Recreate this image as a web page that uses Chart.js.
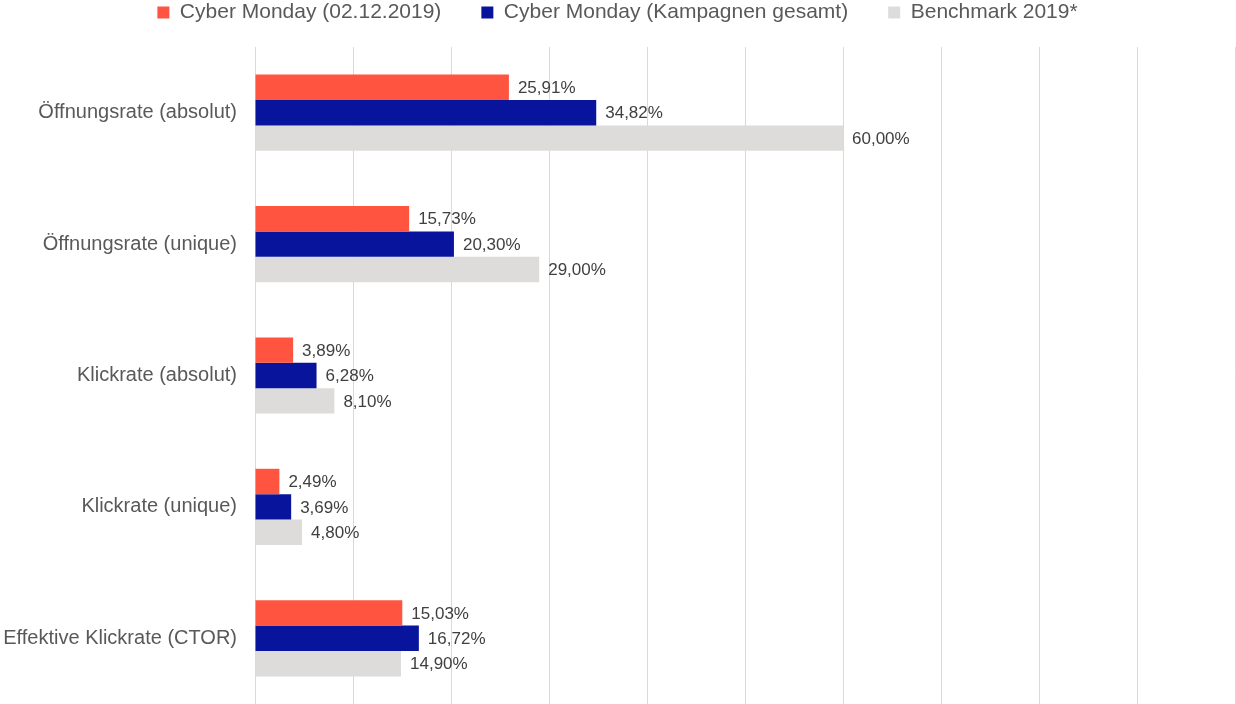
<!DOCTYPE html>
<html>
<head>
<meta charset="utf-8">
<script src="https://cdn.jsdelivr.net/npm/chart.js@4"></script>
<style>
  html, body { margin: 0; padding: 0; background: #fff; }
  #wrap { width: 1236px; height: 704px; }
</style>
</head>
<body>
<div id="wrap"><canvas id="chart"></canvas></div>
<script>
const categories = ['Öffnungsrate (absolut)', 'Öffnungsrate (unique)', 'Klickrate (absolut)', 'Klickrate (unique)', 'Effektive Klickrate (CTOR)'];
const seriesNames = ['Cyber Monday (02.12.2019)', 'Cyber Monday (Kampagnen gesamt)', 'Benchmark 2019*'];
const cyberMonday = [25.91, 15.73, 3.89, 2.49, 15.03];
const kampagnenGesamt = [34.82, 20.30, 6.28, 3.69, 16.72];
const benchmark = [60.00, 29.00, 8.10, 4.80, 14.90];
const colors = ['#ff5540', '#07149b', '#dddcdb'];

const fontFamily = '"Liberation Sans", Arial, sans-serif';

// Prozentwerte rechts neben den Balken
const valueLabels = {
    id: 'valueLabels',
    afterDatasetsDraw(chart) {
        const ctx = chart.ctx;
        ctx.save();
        ctx.font = '17px ' + fontFamily;
        ctx.fillStyle = '#404040';
        ctx.textAlign = 'left';
        ctx.textBaseline = 'middle';
        chart.data.datasets.forEach((ds, i) => {
            chart.getDatasetMeta(i).data.forEach((bar, j) => {
                const txt = ds.data[j].toFixed(2).replace('.', ',') + '%';
                ctx.fillText(txt, bar.x + 9, bar.y + 1);
            });
        });
        ctx.restore();
    }
};

// Legende: feste Höhe, damit der Plotbereich bei y=47 beginnt
const legendHeight = {
    id: 'legendHeight',
    beforeInit(chart) {
        const fit = chart.legend.fit;
        chart.legend.fit = function() {
            fit.call(this);
            this.height = 85;
        };
    }
};

new Chart(document.getElementById('chart'), {
    type: 'bar',
    data: {
        labels: categories,
        datasets: [
            { label: seriesNames[0], data: cyberMonday, backgroundColor: colors[0] },
            { label: seriesNames[1], data: kampagnenGesamt, backgroundColor: colors[1] },
            { label: seriesNames[2], data: benchmark, backgroundColor: colors[2] }
        ]
    },
    options: {
        indexAxis: 'y',
        responsive: true,
        maintainAspectRatio: false,
        animation: false,
        categoryPercentage: 0.58,
        barPercentage: 1,
        layout: { padding: { left: 0, right: 1, top: -38, bottom: 0 } },
        plugins: {
            legend: {
                position: 'top',
                labels: {
                    font: { family: fontFamily, size: 21 },
                    color: '#595959',
                    boxWidth: 12,
                    boxHeight: 12,
                    padding: 40
                }
            },
            tooltip: { enabled: false }
        },
        scales: {
            x: {
                min: 0,
                max: 100,
                ticks: { display: false, stepSize: 10 },
                grid: { color: '#d9d9d9', drawTicks: false },
                border: { display: false },
                afterFit: s => { s.height = 0; }
            },
            y: {
                grid: { display: false, drawTicks: false },
                border: { display: false },
                ticks: {
                    font: { family: fontFamily, size: 20 },
                    color: '#595959',
                    padding: 18
                },
                afterFit: s => {
                    s.width = 255;
                    s.paddingTop = 0;
                    s.paddingBottom = 0;
                }
            }
        }
    },
    plugins: [valueLabels, legendHeight]
});
</script>
</body>
</html>
